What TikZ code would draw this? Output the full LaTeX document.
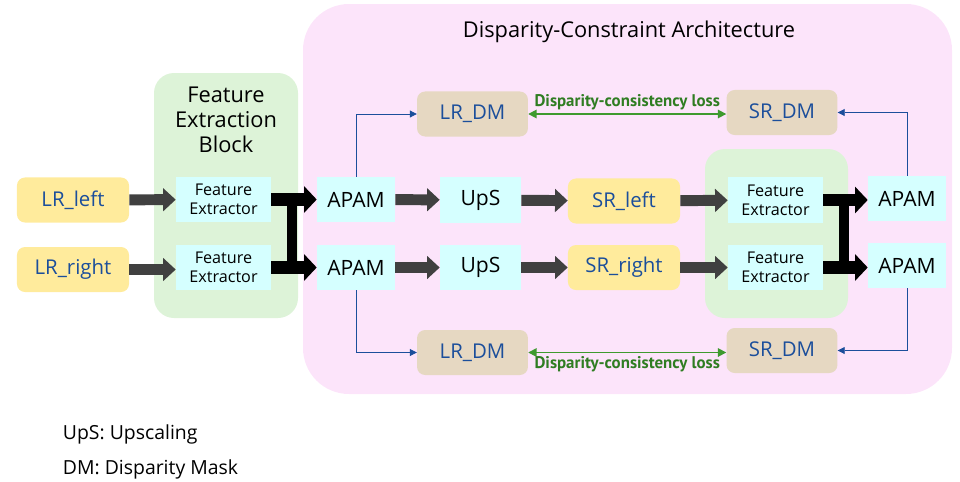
\documentclass[tikz,border=0pt]{standalone}
\usepackage{fontspec}
\setmainfont{Open Sans}
\newfontfamily\lossfont{PT Sans}
\usepackage{tikz}
\usepackage{xcolor}
\usetikzlibrary{arrows.meta,positioning}
\definecolor{archpink}{HTML}{FCE4FA}
\definecolor{blockgreen}{HTML}{DDF3D8}
\definecolor{imgyellow}{HTML}{FFEB9C}
\definecolor{fecyan}{HTML}{D5FFFF}
\definecolor{masktan}{HTML}{E6D8C2}
\definecolor{flowgray}{HTML}{404040}
\definecolor{txtblue}{HTML}{1B4E9B}
\definecolor{lossgreen}{HTML}{2F7D22}
\definecolor{lossline}{HTML}{3E9A2E}

\begin{document}
\begin{tikzpicture}[x=0.025cm,y=-0.025cm,font=\fontsize{14.5}{17}\selectfont,
  fe/.style={fill=fecyan,minimum width=2.375cm,minimum height=1.125cm,inner sep=0pt,
             align=center,font=\fontsize{11.5}{13.5}\selectfont},
  unit/.style={fill=fecyan,minimum width=1.95cm,minimum height=1.125cm,inner sep=0pt,
               font=\fontsize{15}{17}\selectfont},
  img/.style={fill=imgyellow,rounded corners=0.2cm,text=txtblue,minimum width=2.8cm,
              minimum height=1.125cm,inner sep=0pt},
  mask/.style={fill=masktan,rounded corners=0.2cm,text=txtblue,minimum width=2.77cm,
               minimum height=1.125cm,inner sep=0pt},
  flow/.style={draw=flowgray,line width=7.8pt,-{Triangle[length=9pt,width=16pt]}},
  fuse/.style={draw=black,line width=9pt,-{Triangle[length=9pt,width=18.5pt]}},
  fusebar/.style={draw=black,line width=6.5pt},
  maskline/.style={draw=txtblue,line width=0.6pt,-{Triangle[length=5pt,width=5pt]}},
  lossline/.style={draw=lossline,line width=1.2pt,{Triangle[length=6pt,width=6pt]}-{Triangle[length=6pt,width=6pt]}},
  losslabel/.style={text=lossgreen,font=\lossfont\bfseries\fontsize{12}{14}\selectfont,inner sep=2pt}]
  \useasboundingbox (0,0) rectangle (960,481);

  % backgrounds
  \fill[archpink,rounded corners=1.15cm] (303,4) rectangle (952,394);
  \fill[blockgreen,rounded corners=0.5cm] (154,73) rectangle (298,318);
  \fill[blockgreen,rounded corners=0.5cm] (705,149) rectangle (848,318);
  \node[font=\fontsize{15.5}{18}\selectfont] (archtitle) at (629,32) {Disparity-Constraint Architecture};
  \node[align=center,font=\fontsize{15.5}{18}\selectfont] (fetitle) at (226,120) {Feature\\Extraction\\Block};

  % inputs and first feature extractors
  \node[img] (lrleft) at (73,200) {LR\_left};
  \node[img] (lrright) at (73,269.5) {LR\_right};
  \node[fe] (fe1) at (223.5,199.5) {Feature\\Extractor};
  \node[fe] (fe2) at (223.5,267.5) {Feature\\Extractor};

  % attention and upscaling
  \node[unit] (apam1) at (356,199.5) {APAM};
  \node[unit] (apam2) at (356,267.5) {APAM};
  \node[unit,minimum width=2.025cm] (ups1) at (480.5,200) {UpS};
  \node[unit,minimum width=2.025cm] (ups2) at (480.5,267.5) {UpS};
  \node[img] (srleft) at (624,201) {SR\_left};
  \node[img] (srright) at (624,267.5) {SR\_right};

  % second feature extractors
  \node[fe] (fe3) at (775.5,200) {Feature\\Extractor};
  \node[fe] (fe4) at (775.5,267.5) {Feature\\Extractor};
  \node[unit] (apam3) at (907,198.5) {APAM};
  \node[unit] (apam4) at (907,265.5) {APAM};

  % disparity masks
  \node[mask] (lrdmtop) at (472.5,114) {LR\_DM};
  \node[mask] (srdmtop) at (782,112.5) {SR\_DM};
  \node[mask] (lrdmbot) at (472.5,352.5) {LR\_DM};
  \node[mask] (srdmbot) at (782,350.5) {SR\_DM};

  % gray flow arrows
  \draw[flow] (lrleft) -- (fe1);
  \draw[flow] (lrright.east) -- (fe2.west |- lrright.east);
  \draw[flow] (apam1) -- (ups1);
  \draw[flow] (apam2) -- (ups2);
  \draw[flow] (ups1) -- (srleft);
  \draw[flow] (ups2) -- (srright);
  \draw[flow] (srleft) -- (fe3);
  \draw[flow] (srright) -- (fe4);

  % fused feature arrows
  \coordinate (joinL) at (292,0);
  \coordinate (joinR) at (844,0);
  \draw[fuse] (fe1) -- (apam1);
  \draw[fuse] (fe2) -- (apam2);
  \draw[fusebar] (fe1.east -| joinL) -- (fe2.east -| joinL);
  \draw[fuse] (fe3.east) -- (apam3.west |- fe3.east);
  \draw[fuse] (fe4.east) -- (apam4.west |- fe4.east);
  \draw[fusebar] (fe3.east -| joinR) -- (fe4.east -| joinR);

  % mask connectors
  \draw[maskline] (apam1.north) |- (lrdmtop.west);
  \draw[maskline] (apam2.south) |- (lrdmbot.west);
  \draw[maskline] (apam3.north) |- (srdmtop.east);
  \draw[maskline] (apam4.south) |- (srdmbot.east);

  % consistency losses
  \draw[lossline] (lrdmtop.east) -- (lrdmtop.east -| srdmtop.west)
    node[midway,above,losslabel] (losstop) {Disparity-consistency loss};
  \draw[lossline] (lrdmbot.east) -- (lrdmbot.east -| srdmbot.west)
    node[midway,below,losslabel] (lossbot) {Disparity-consistency loss};

  % legend
  \node[anchor=west,font=\fontsize{13.8}{16}\selectfont] (legups) at (58,434) {UpS: Upscaling};
  \node[anchor=west,font=\fontsize{13.8}{16}\selectfont] (legdm) at (58,469) {DM: Disparity Mask};
\end{tikzpicture}
\end{document}
